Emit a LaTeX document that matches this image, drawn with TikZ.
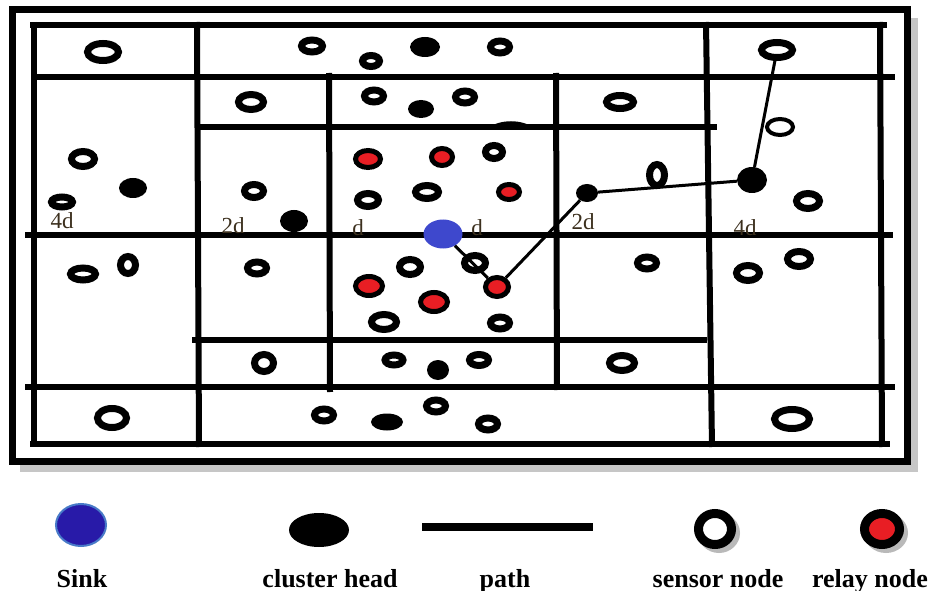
\documentclass[tikz,border=0pt]{standalone}
\usepackage{fontspec}
\setmainfont{Liberation Serif}
\usetikzlibrary{shapes.geometric}
\definecolor{sinkblue}{RGB}{62,72,205}
\definecolor{legblue}{RGB}{40,26,168}
\definecolor{legrim}{RGB}{72,122,200}
\definecolor{relayred}{RGB}{232,30,36}
\definecolor{labelink}{RGB}{60,48,30}
\begin{document}
\begin{tikzpicture}[x=1pt, y=-1pt,
    gridline/.style={line width=6pt},
    sensor/.style={ellipse, draw=black, fill=white, line width=7pt, inner sep=0pt},
    relay/.style={ellipse, draw=black, fill=relayred, line width=5pt, inner sep=0pt},
    chead/.style={ellipse, fill=black, inner sep=0pt},
    pathline/.style={line width=3pt},
    dist/.style={text=labelink, font=\fontsize{23}{25}\selectfont, inner sep=0pt},
    legtext/.style={font=\bfseries\fontsize{26}{28}\selectfont, anchor=base, inner sep=0pt}]
    \useasboundingbox[fill=white] (0,0) rectangle (938,591);

    % frame and its shadow
    \draw[gray!45, line width=7pt] (914,18) -- (914,468) -- (20,468);
    \draw[line width=7pt] (12,10) rectangle (907,461);

    % cells
    \draw[gridline] (30,25) -- (887,25);
    \draw[gridline] (30,444) -- (890,444);
    \draw[gridline] (34,22) -- (34,447);
    \draw[gridline] (880,22) -- (882,447);
    \draw[gridline] (34,77) -- (895,77);
    \draw[gridline] (25,235) -- (893,235);
    \draw[gridline] (25,387) -- (895,387);
    \draw[gridline] (197,22) -- (199,447);
    \draw[gridline] (706,22) -- (712,447);
    \draw[gridline] (329,73) -- (330,392);
    \draw[gridline] (556,73) -- (557,390);
    \draw[gridline] (197,127) -- (717,127);
    \draw[gridline] (192,340) -- (707,340);
    \fill (488,128) .. controls (500,119) and (522,119) .. (534,128) -- cycle;

    % distance labels
    \node[dist] (l4a) at (62,221) {4d};
    \node[dist] (l2a) at (233,226) {2d};
    \node[dist] (l1a) at (358,228) {d};
    \node[dist] (l1b) at (477,228) {d};
    \node[dist] (l2b) at (583,222) {2d};
    \node[dist] (l4b) at (745,228) {4d};

    % sensor nodes
    \foreach \x/\y/\w/\h [count=\i] in {103/52/31/17, 312/46/21/12, 371/61/17/11,
        500/47/19/12, 251/102/25/15, 374/96/19/12, 465/97/19/12, 620/102/27/13,
        83/159/23/15, 62/202/21/10, 254/191/19/13, 368/200/21/13, 427/192/23/13,
        494/152/17/13, 657/175/15/21, 808/201/23/15, 83/274/25/12, 128/265/15/17,
        257/268/19/12, 410/267/21/15, 384/322/25/15, 475/263/21/15, 500/323/19/12,
        647/263/19/12, 748/273/23/15, 799/259/23/15, 264/363/19/17, 394/360/18/10,
        479/360/19/11, 622/363/25/15, 112/418/29/19, 324/415/19/12, 436/406/19/12,
        488/424/19/12, 792/419/35/19}
        \node[sensor, minimum width=\w pt, minimum height=\h pt] (s\i) at (\x,\y) {};
    \node[sensor, line width=4pt, minimum width=26pt, minimum height=16pt] (sfree) at (780,127) {};
    \node[sensor, minimum width=31pt, minimum height=15pt] (stop) at (777,50) {};

    % cluster heads
    \foreach \x/\y/\w/\h [count=\i] in {425/47/30/20, 421/109/26/18, 133/188/28/20,
        294/221/28/22, 438/370/22/20, 387/422/32/17}
        \node[chead, minimum width=\w pt, minimum height=\h pt] (c\i) at (\x,\y) {};
    \node[chead, minimum width=22pt, minimum height=18pt] (c2d) at (587,193) {};
    \node[chead, minimum width=30pt, minimum height=26pt] (c4d) at (752,180) {};

    % relay nodes
    \foreach \x/\y/\w/\h [count=\i] in {368/159/25/17, 442/157/21/17, 509/192/21/15,
        369/286/27/19, 434/302/27/19}
        \node[relay, minimum width=\w pt, minimum height=\h pt] (r\i) at (\x,\y) {};
    \node[relay, minimum width=23pt, minimum height=19pt] (rpath) at (497,287) {};

    % sink
    \node[ellipse, fill=sinkblue, inner sep=0pt, minimum width=39pt, minimum height=29pt] (sink) at (443,234) {};

    % route to the sink
    \draw[pathline] (stop) -- (c4d);
    \draw[pathline] (c4d) -- (c2d);
    \draw[pathline] (c2d) -- (rpath);
    \draw[pathline] (rpath) -- (sink);

    % legend
    \node[ellipse, fill=legblue, draw=legrim, line width=2pt, inner sep=0pt, minimum width=50pt, minimum height=42pt] (ksink) at (81,525) {};
    \node[chead, minimum width=60pt, minimum height=34pt] (khead) at (319,530) {};
    \coordinate (kpa) at (422,527);
    \coordinate (kpb) at (593,527);
    \draw[line width=8pt] (kpa) -- (kpb);
    \node[ellipse, fill=gray!55, inner sep=0pt, minimum width=42pt, minimum height=40pt] (kshs) at (719,533) {};
    \node[sensor, line width=9pt, minimum width=33pt, minimum height=31pt] (ksensor) at (715,529) {};
    \node[ellipse, fill=gray!55, inner sep=0pt, minimum width=44pt, minimum height=40pt] (kshr) at (886,533) {};
    \node[relay, line width=9pt, minimum width=35pt, minimum height=31pt] (krelay) at (882,529) {};

    \node[legtext] (tsink) at (82,587) {Sink};
    \node[legtext] (thead) at (330,587) {cluster head};
    \node[legtext] (tpath) at (505,587) {path};
    \node[legtext] (tsensor) at (718,587) {sensor node};
    \node[legtext] (trelay) at (870,587) {relay node};
\end{tikzpicture}
\end{document}
